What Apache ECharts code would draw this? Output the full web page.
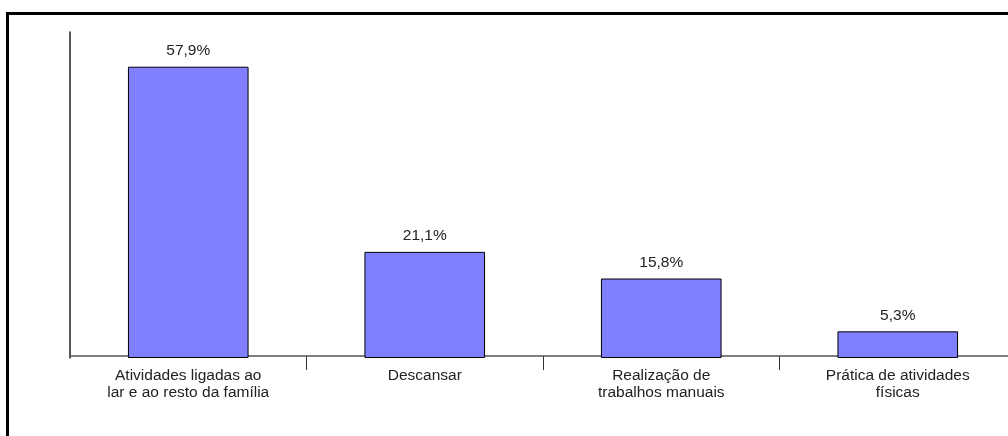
<!DOCTYPE html>
<html>
<head>
<meta charset="utf-8">
<style>
  html, body { margin: 0; padding: 0; background: #fff; overflow: hidden; }
  #chart { width: 1030px; height: 436px; }
</style>
<script src="https://cdn.jsdelivr.net/npm/echarts@6/dist/echarts.min.js"></script>
</head>
<body>
<div id="chart"></div>
<script>
// Categories (line breaks as printed under each bar)
const categories = [
  'Atividades ligadas ao\nlar e ao resto da família',
  'Descansar',
  'Realização de\ntrabalhos manuais',
  'Prática de atividades\nfísicas'
];
// Share of respondents, in percent
const values = [57.9, 21.1, 15.8, 5.3];

const chart = echarts.init(document.getElementById('chart'), null, { renderer: 'canvas' });

const fmtPct = v => v.toFixed(1).replace('.', ',') + '%';
const FONT = 'Liberation Sans, Arial, sans-serif';

chart.setOption({
  animation: false,
  backgroundColor: '#ffffff',
  textStyle: { fontFamily: FONT },
  graphic: [{
    type: 'rect',
    silent: true,
    shape: { x: 7.5, y: 13.5, width: 1200, height: 600 },
    style: { fill: 'none', stroke: '#000', lineWidth: 3 }
  }],
  // plot runs past the right edge of the window, as the page is cropped there
  grid: { left: 70, top: 32, right: 14, bottom: 78, containLabel: false },
  xAxis: {
    type: 'category',
    data: categories,
    boundaryGap: true,
    offset: -2,
    axisLine: { lineStyle: { color: '#555', width: 1.5 } },
    axisTick: {
      show: true,
      length: 14,
      interval: (index) => index !== 0,
      lineStyle: { color: '#333', width: 1 }
    },
    axisLabel: {
      interval: 0,
      margin: 11,
      color: '#222',
      fontSize: 15.5,
      lineHeight: 17,
      fontFamily: FONT
    },
    splitLine: { show: false }
  },
  yAxis: {
    type: 'value',
    min: 0,
    max: 64.8,
    axisLine: { show: true, lineStyle: { color: '#222', width: 1.5 } },
    axisTick: { show: false },
    axisLabel: { show: false },
    splitLine: { show: false }
  },
  series: [{
    type: 'bar',
    data: values,
    barWidth: '51%',
    itemStyle: { color: '#8080FF', borderColor: '#000', borderWidth: 1 },
    label: {
      show: true,
      position: 'top',
      distance: 8,
      color: '#222',
      fontSize: 15.5,
      fontFamily: FONT,
      formatter: p => fmtPct(p.value)
    }
  }]
});
</script>
</body>
</html>
